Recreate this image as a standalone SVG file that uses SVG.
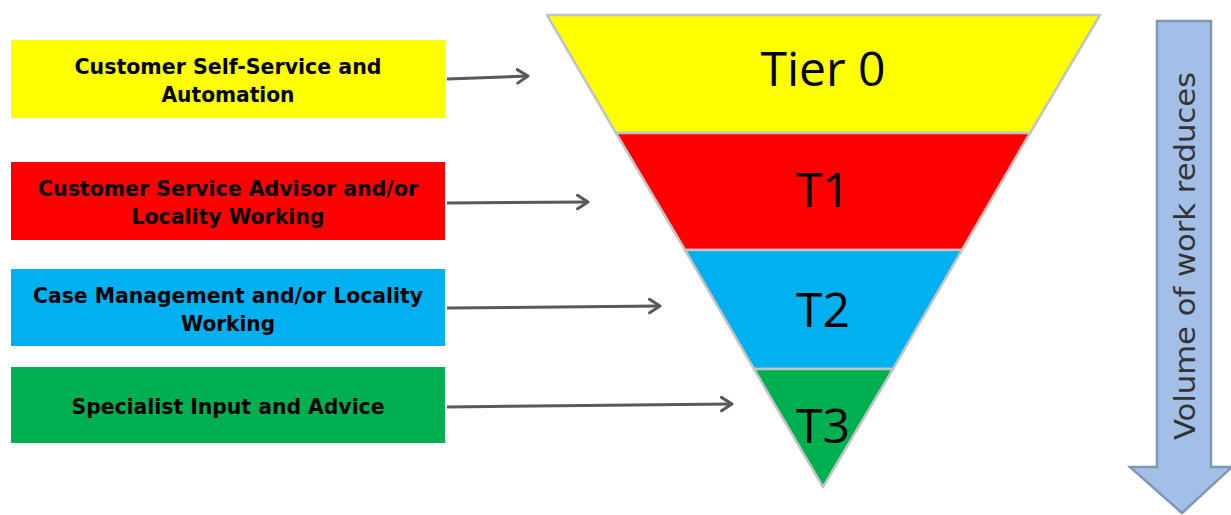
<svg xmlns="http://www.w3.org/2000/svg" width="1231" height="515" viewBox="0 0 1231 515">
  <defs>
    <marker id="chev" viewBox="0 0 12 12" refX="10" refY="6" markerWidth="6" markerHeight="6" markerUnits="strokeWidth" orient="auto">
      <path d="M3,1.5 L10,6 L3,10.5" fill="none" stroke="#595959" stroke-width="2" stroke-linecap="round" stroke-linejoin="round"/>
    </marker>
  </defs>
  <style>
    .box { stroke: none; }
    .lbl { font-family: "DejaVu Sans", Verdana, sans-serif; font-weight: bold; font-size: 21.5px; fill: #000; text-anchor: middle; }
    .tier { stroke: #c3c3c3; stroke-width: 2.5; stroke-linejoin: round; }
    .tl { font-family: "Open Sans", "Noto Sans", sans-serif; font-size: 48px; fill: #000; text-anchor: middle; }
    .conn { fill: none; stroke: #595959; stroke-width: 3; marker-end: url(#chev); }
  </style>
  <rect width="1231" height="515" fill="#ffffff"/>

  <!-- service level boxes -->
  <g id="box-self-service">
    <rect class="box" x="11" y="40" width="434" height="78" fill="#ffff00"/>
    <text class="lbl" x="228" y="74" textLength="307" lengthAdjust="spacingAndGlyphs">Customer Self-Service and</text>
    <text class="lbl" x="228" y="102" textLength="133" lengthAdjust="spacingAndGlyphs">Automation</text>
  </g>
  <g id="box-advisor">
    <rect class="box" x="11" y="162" width="434" height="78" fill="#ff0000"/>
    <text class="lbl" x="228" y="196" textLength="380" lengthAdjust="spacingAndGlyphs">Customer Service Advisor and/or</text>
    <text class="lbl" x="228" y="224" textLength="193" lengthAdjust="spacingAndGlyphs">Locality Working</text>
  </g>
  <g id="box-case">
    <rect class="box" x="11" y="269" width="434" height="77" fill="#00b0f0"/>
    <text class="lbl" x="228" y="303" textLength="390" lengthAdjust="spacingAndGlyphs">Case Management and/or Locality</text>
    <text class="lbl" x="228" y="331" textLength="94" lengthAdjust="spacingAndGlyphs">Working</text>
  </g>
  <g id="box-specialist">
    <rect class="box" x="11" y="367" width="434" height="76" fill="#00b050"/>
    <text class="lbl" x="228" y="414" textLength="313" lengthAdjust="spacingAndGlyphs">Specialist Input and Advice</text>
  </g>

  <!-- inverted funnel tiers -->
  <g id="tier-0">
    <polygon class="tier" points="547,15 1100,15 1030,133 616,133" fill="#ffff00"/>
    <text class="tl" x="823" y="86">Tier 0</text>
  </g>
  <g id="tier-1">
    <polygon class="tier" points="616,133 1030,133 962,250 685,250" fill="#ff0000"/>
    <text class="tl" x="823" y="207">T1</text>
  </g>
  <g id="tier-2">
    <polygon class="tier" points="685,250 962,250 893,369 754,369" fill="#00b0f0"/>
    <text class="tl" x="823" y="327">T2</text>
  </g>
  <g id="tier-3">
    <polygon class="tier" points="754,369 893,369 823,487" fill="#00b050"/>
    <text class="tl" x="823" y="443">T3</text>
  </g>

  <!-- volume arrow -->
  <g id="volume-arrow">
    <polygon points="1157,21 1211,21 1211,467 1232,467 1182,513 1130,467 1157,467" fill="#a4bfe7" stroke="#7f96b7" stroke-width="2.5" stroke-linejoin="miter"/>
    <text x="1185" y="256" transform="rotate(-90 1185 256)" font-family="'DejaVu Sans', Verdana, sans-serif" font-size="28" fill="#333333" text-anchor="middle" dominant-baseline="central" textLength="368" lengthAdjust="spacingAndGlyphs">Volume of work reduces</text>
  </g>

  <!-- connectors -->
  <g id="connectors">
    <line class="conn" x1="447" y1="79" x2="528" y2="76"/>
    <line class="conn" x1="447" y1="203" x2="588" y2="202"/>
    <line class="conn" x1="447" y1="308" x2="660" y2="306"/>
    <line class="conn" x1="447" y1="407" x2="732" y2="404"/>
  </g>
</svg>
